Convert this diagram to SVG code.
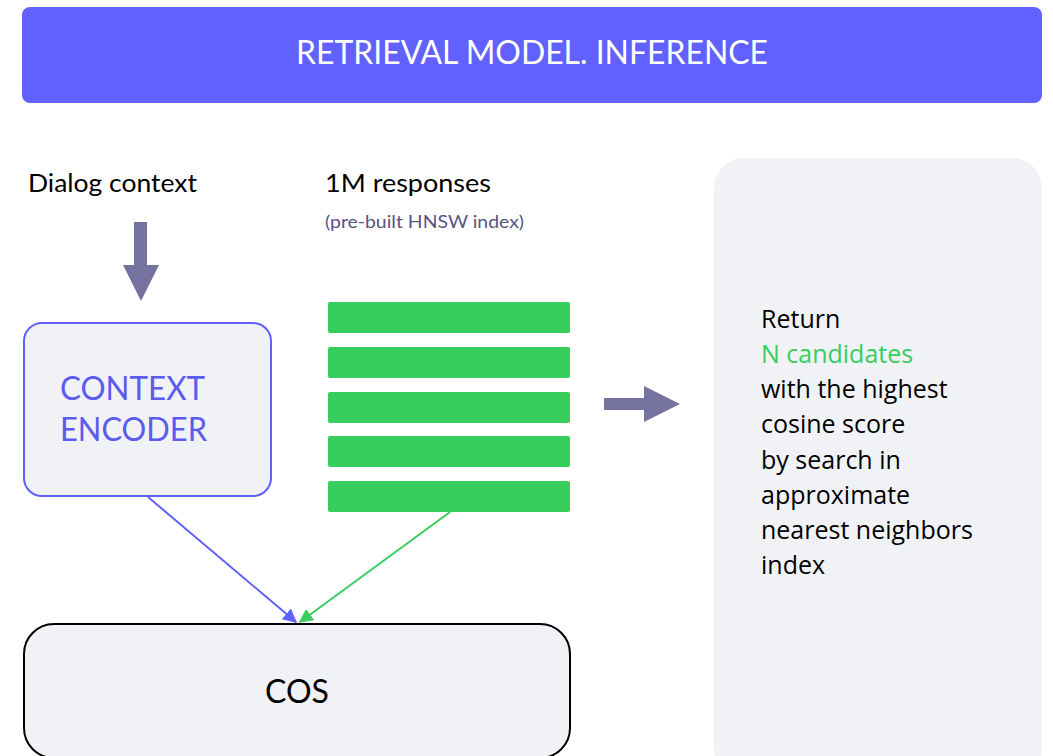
<svg xmlns="http://www.w3.org/2000/svg" width="1053" height="756" viewBox="0 0 1053 756">
<defs>
<style>
.cal{font-family:Lato,"Liberation Sans",sans-serif}
.os{font-family:"Open Sans","Liberation Sans",sans-serif}
.bar{fill:#37CE5E}
.panel{fill:#F1F2F6}
</style>
<marker id="mb" viewBox="0 0 10 10" refX="9" refY="5" markerWidth="7" markerHeight="7" orient="auto" markerUnits="strokeWidth"><path d="M0,0 L10,5 L0,10 z" fill="#6060FF"/></marker>
<marker id="mg" viewBox="0 0 10 10" refX="9" refY="5" markerWidth="7" markerHeight="7" orient="auto" markerUnits="strokeWidth"><path d="M0,0 L10,5 L0,10 z" fill="#37CE5E"/></marker>
</defs>
<rect width="1053" height="756" fill="#FFFFFF"/>
<g id="title">
<rect x="22" y="7" width="1020" height="96" rx="8" fill="#6061FE"/>
<text x="532" y="64" text-anchor="middle" class="cal" font-size="32" fill="#FFFFFF" textLength="472" lengthAdjust="spacingAndGlyphs">RETRIEVAL MODEL. INFERENCE</text>
</g>
<g id="dialog-context">
<text x="28" y="192" class="cal" font-size="25" fill="#000" textLength="169" lengthAdjust="spacingAndGlyphs">Dialog context</text>
<polygon points="134,222 147,222 147,265 159,265 141,301 123,265 134,265" fill="#7672A0"/>
</g>
<g id="responses">
<text x="325" y="192" class="cal" font-size="25" fill="#000" textLength="166" lengthAdjust="spacingAndGlyphs">1M responses</text>
<text x="325" y="228" class="cal" font-size="17" fill="#585480" textLength="199" lengthAdjust="spacingAndGlyphs">(pre-built HNSW index)</text>
<rect class="bar" x="328" y="302" width="242" height="31" rx="2"/>
<rect class="bar" x="328" y="347" width="242" height="31" rx="2"/>
<rect class="bar" x="328" y="392" width="242" height="31" rx="2"/>
<rect class="bar" x="328" y="436" width="242" height="31" rx="2"/>
<rect class="bar" x="328" y="481" width="242" height="31" rx="2"/>
</g>
<g id="context-encoder">
<rect x="24" y="323" width="247" height="173" rx="18" fill="#F1F2F6" stroke="#6060FF" stroke-width="2"/>
<text x="60" y="400" class="cal" font-size="32" fill="#5B5BF0" textLength="145" lengthAdjust="spacingAndGlyphs">CONTEXT</text>
<text x="60" y="441" class="cal" font-size="32" fill="#5B5BF0" textLength="147" lengthAdjust="spacingAndGlyphs">ENCODER</text>
</g>
<g id="cos">
<rect x="24" y="624" width="546" height="134" rx="30" fill="#F1F2F6" stroke="#000" stroke-width="2"/>
<text x="297" y="703" text-anchor="middle" class="cal" font-size="32" fill="#000">COS</text>
</g>
<g id="result">
<polygon points="604,398 644,398 644,386 680,404 644,422 644,410 604,410" fill="#7672A0"/>
<rect class="panel" x="714" y="158" width="328" height="620" rx="30"/>
<g class="os" font-size="25" fill="#000">
<text x="761" y="328">Return</text>
<text x="761" y="363" fill="#37CE5E">N candidates</text>
<text x="761" y="398">with the highest</text>
<text x="761" y="433">cosine score</text>
<text x="761" y="469">by search in</text>
<text x="761" y="504">approximate</text>
<text x="761" y="539">nearest neighbors</text>
<text x="761" y="574">index</text>
</g>
</g>
<g id="connectors" fill="none" stroke-width="2">
<line x1="148" y1="497" x2="296" y2="622" stroke="#6060FF" marker-end="url(#mb)"/>
<line x1="450" y1="512" x2="300" y2="622" stroke="#37CE5E" marker-end="url(#mg)"/>
</g>
</svg>
